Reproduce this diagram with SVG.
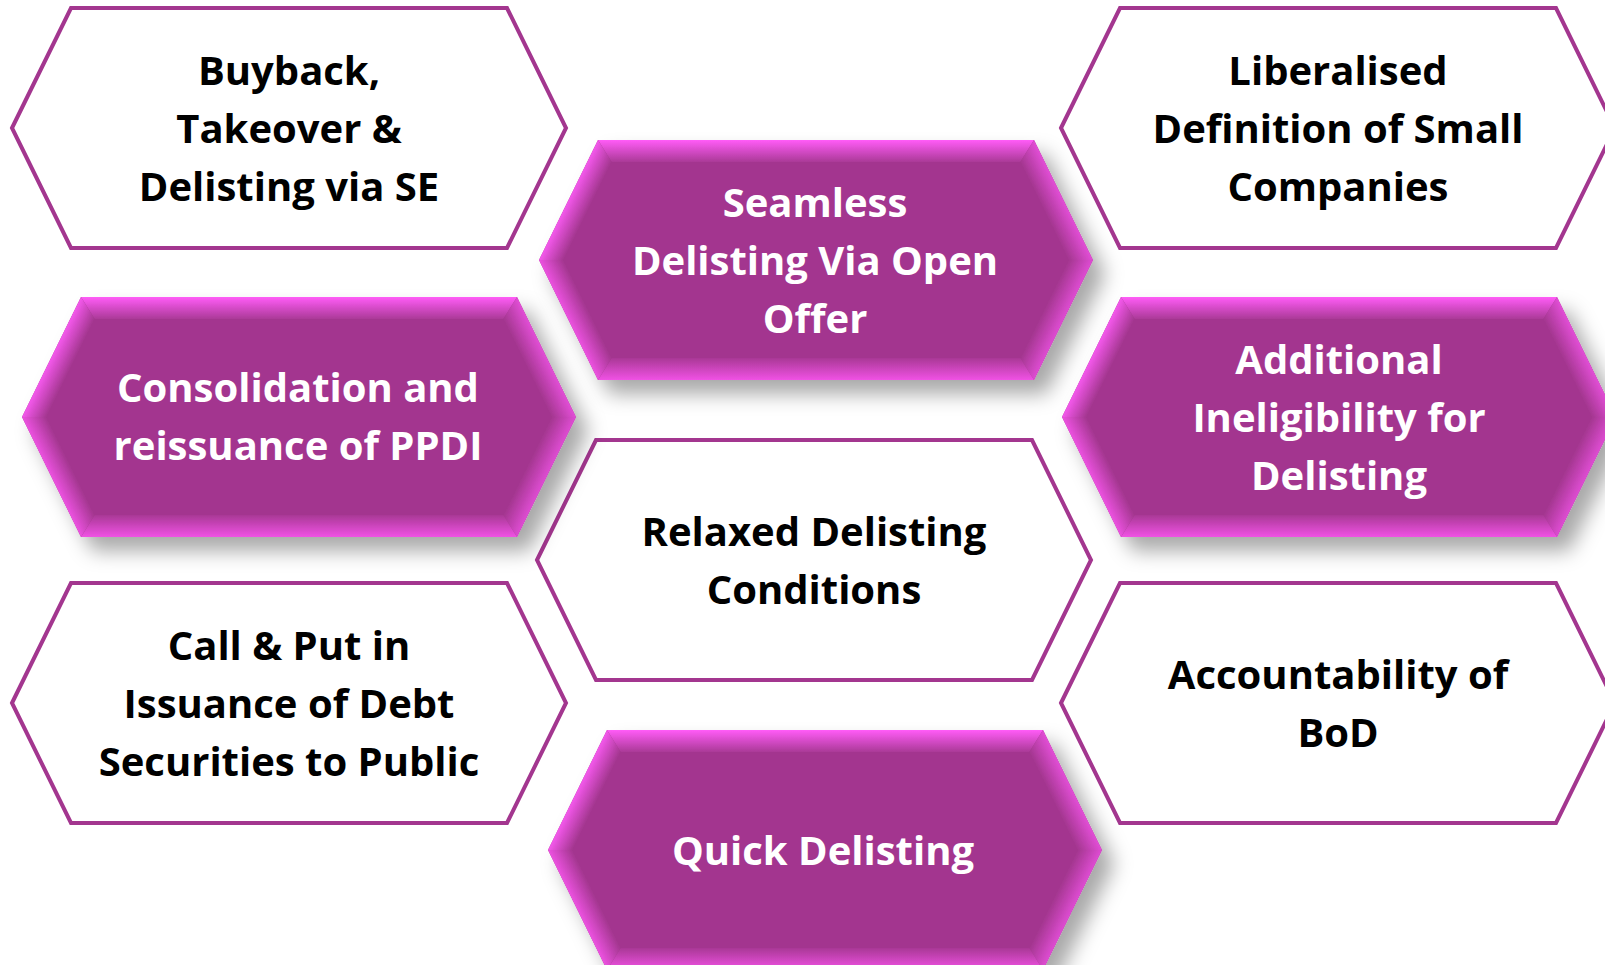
<svg xmlns="http://www.w3.org/2000/svg" xmlns:xlink="http://www.w3.org/1999/xlink" width="1605" height="965" viewBox="0 0 1605 965">
  <style>
    .hw { fill: #ffffff; stroke: #A3368F; stroke-width: 4; stroke-linejoin: miter; }
    .t { font-family: "Open Sans", "Liberation Sans", sans-serif; font-weight: 700; font-size: 40px; text-anchor: middle; }
    .tw { fill: #ffffff; }
    .tb { fill: #000000; }
  </style>
  <defs>
    <!-- bevel facet gradients, in the local 554x240 hexagon space -->
    <linearGradient id="gTop" gradientUnits="userSpaceOnUse" x1="0" y1="0" x2="0" y2="24">
      <stop offset="0" stop-color="#FF5CF7"/>
      <stop offset="1" stop-color="#A3368F"/>
    </linearGradient>
    <linearGradient id="gBot" gradientUnits="userSpaceOnUse" x1="0" y1="240" x2="0" y2="216">
      <stop offset="0" stop-color="#F052E4"/>
      <stop offset="1" stop-color="#A3368F"/>
    </linearGradient>
    <linearGradient id="gUL" gradientUnits="userSpaceOnUse" x1="29.5" y1="60" x2="49.2" y2="69.7">
      <stop offset="0" stop-color="#F458EC"/>
      <stop offset="1" stop-color="#A3368F"/>
    </linearGradient>
    <linearGradient id="gLL" gradientUnits="userSpaceOnUse" x1="29.5" y1="180" x2="49.2" y2="170.3">
      <stop offset="0" stop-color="#EC52E0"/>
      <stop offset="1" stop-color="#A3368F"/>
    </linearGradient>
    <linearGradient id="gUR" gradientUnits="userSpaceOnUse" x1="524.5" y1="60" x2="504.8" y2="69.7">
      <stop offset="0" stop-color="#E24ED6"/>
      <stop offset="1" stop-color="#A3368F"/>
    </linearGradient>
    <linearGradient id="gLR" gradientUnits="userSpaceOnUse" x1="524.5" y1="180" x2="504.8" y2="170.3">
      <stop offset="0" stop-color="#DE4CD2"/>
      <stop offset="1" stop-color="#A3368F"/>
    </linearGradient>

    <filter id="shadow" x="-10%" y="-15%" width="130%" height="140%">
      <feGaussianBlur in="SourceAlpha" stdDeviation="10"/>
      <feOffset dx="12" dy="14" result="b"/>
      <feFlood flood-color="#000000" flood-opacity="0.34"/>
      <feComposite in2="b" operator="in" result="s"/>
      <feMerge>
        <feMergeNode in="s"/>
        <feMergeNode in="SourceGraphic"/>
      </feMerge>
    </filter>

    <!-- outlined hexagon -->
    <polygon id="hexW" class="hw" points="0,120 59,0 495,0 554,120 495,240 59,240"/>

    <!-- bevelled filled hexagon -->
    <g id="hexP">
      <polygon fill="#A3368F" points="0,120 59,0 495,0 554,120 495,240 59,240"/>
      <polygon fill="url(#gTop)" points="59,0 495,0 481.3,22 72.7,22"/>
      <polygon fill="url(#gUR)" points="495,0 554,120 529.5,120 481.3,22"/>
      <polygon fill="url(#gLR)" points="554,120 495,240 481.3,218 529.5,120"/>
      <polygon fill="url(#gBot)" points="495,240 59,240 72.7,218 481.3,218"/>
      <polygon fill="url(#gLL)" points="59,240 0,120 24.5,120 72.7,218"/>
      <polygon fill="url(#gUL)" points="0,120 59,0 72.7,22 24.5,120"/>
    </g>
  </defs>

  <rect width="1605" height="965" fill="#ffffff"/>

  <g id="node-buyback">
    <use xlink:href="#hexW" transform="translate(12,8)"/>
    <text class="t tb" x="289" y="85">Buyback,</text>
    <text class="t tb" x="289" y="143">Takeover &amp;</text>
    <text class="t tb" x="289" y="201">Delisting via SE</text>
  </g>

  <g id="node-small-companies">
    <use xlink:href="#hexW" transform="translate(1061,8)"/>
    <text class="t tb" x="1338" y="85">Liberalised</text>
    <text class="t tb" x="1338" y="143">Definition of Small</text>
    <text class="t tb" x="1338" y="201">Companies</text>
  </g>

  <g id="node-relaxed">
    <use xlink:href="#hexW" transform="translate(537,440)"/>
    <text class="t tb" x="814" y="546">Relaxed Delisting</text>
    <text class="t tb" x="814" y="604">Conditions</text>
  </g>

  <g id="node-call-put">
    <use xlink:href="#hexW" transform="translate(12,583)"/>
    <text class="t tb" x="289" y="660">Call &amp; Put in</text>
    <text class="t tb" x="289" y="718">Issuance of Debt</text>
    <text class="t tb" x="289" y="776">Securities to Public</text>
  </g>

  <g id="node-accountability">
    <use xlink:href="#hexW" transform="translate(1061,583)"/>
    <text class="t tb" x="1338" y="689">Accountability of</text>
    <text class="t tb" x="1338" y="747">BoD</text>
  </g>

  <g id="node-seamless">
    <use xlink:href="#hexP" transform="translate(539,140)" filter="url(#shadow)"/>
    <text class="t tw" x="815" y="217">Seamless</text>
    <text class="t tw" x="815" y="275">Delisting Via Open</text>
    <text class="t tw" x="815" y="333">Offer</text>
  </g>

  <g id="node-ppdi">
    <use xlink:href="#hexP" transform="translate(22,297)" filter="url(#shadow)"/>
    <text class="t tw" x="298" y="402">Consolidation and</text>
    <text class="t tw" x="298" y="460">reissuance of PPDI</text>
  </g>

  <g id="node-ineligibility">
    <use xlink:href="#hexP" transform="translate(1062,297)" filter="url(#shadow)"/>
    <text class="t tw" x="1339" y="374">Additional</text>
    <text class="t tw" x="1339" y="432">Ineligibility for</text>
    <text class="t tw" x="1339" y="490">Delisting</text>
  </g>

  <g id="node-quick">
    <use xlink:href="#hexP" transform="translate(548,730)" filter="url(#shadow)"/>
    <text class="t tw" x="823" y="865">Quick Delisting</text>
  </g>
</svg>
